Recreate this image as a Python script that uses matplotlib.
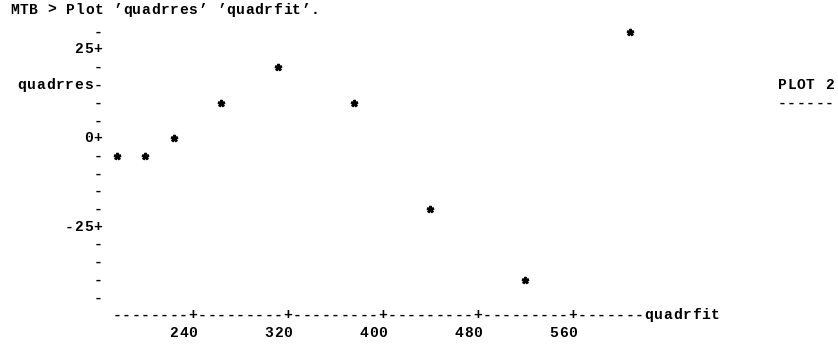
import numpy as np
import matplotlib
matplotlib.use("Agg")
import matplotlib.pyplot as plt
from matplotlib.path import Path
from matplotlib.textpath import TextPath
from matplotlib.font_manager import FontProperties

# data
quadrfit = [176, 200, 224, 264, 312, 376, 440, 520, 608]
quadrres = [-5, -5, 0, 10, 20, 10, -20, -40, 30]
xticks = [240, 320, 400, 480, 560]
yticks = [25, 0, -25]
xlabel = "quadrfit"
ylabel = "quadrres"
command = "MTB > Plot \u2019quadrres\u2019 \u2019quadrfit\u2019."

mono = FontProperties(family="Liberation Mono", weight="bold", size=10.5)

fig = plt.figure(figsize=(8.38, 3.44), dpi=100)
ax = fig.add_axes([0, 0, 1, 1])
ax.set_xlim(77.5, 783.2)
ax.set_ylim(-58.19, 38.98)
ax.axis("off")

CW = 8      # quadrfit units per character column
X0 = 176    # quadrfit value of column 0


def put(col, row, s, step=1.0):
    # write a string one character per grid cell
    for i, ch in enumerate(s):
        if ch != " ":
            ax.text(X0 + CW * (col + i * step), row, ch, fontproperties=mono,
                    ha="center", va="center", color="black")


# command line
put(-10.8, 36.2, command, step=0.99)

# y axis: one row every 5 units
for r in range(30, -50, -5):
    put(-2, r, "+" if r in yticks else "-")
for t in yticks:
    s = str(t)
    put(-2 - len(s), t, s)
put(-2 - len(ylabel), 15, ylabel)

# x axis, last digit of each tick label under its '+'
ncol = 56
axis = "".join("+" if X0 + CW * c in xticks else "-" for c in range(ncol))
put(0, -50, axis + xlabel)
for t in xticks:
    s = str(t)
    put((t - X0) / CW - (len(s) - 1), -55, s)

# right margin text
put(70, 15, "PLOT 2")
put(70, 10, "------")

# stars, centred on their data point
star = TextPath((0, 0), "*", size=1, prop=mono)
codes = star.codes
verts = star.vertices.copy()
keep = codes != Path.CLOSEPOLY
lo, hi = verts[keep].min(axis=0), verts[keep].max(axis=0)
verts = verts - (lo + hi) / 2
verts[~keep] = 0
star = Path(verts, codes)
ax.plot(quadrfit, quadrres, ls="none", marker=star, ms=4.6, color="black")

fig.savefig("out.png", dpi=100)
